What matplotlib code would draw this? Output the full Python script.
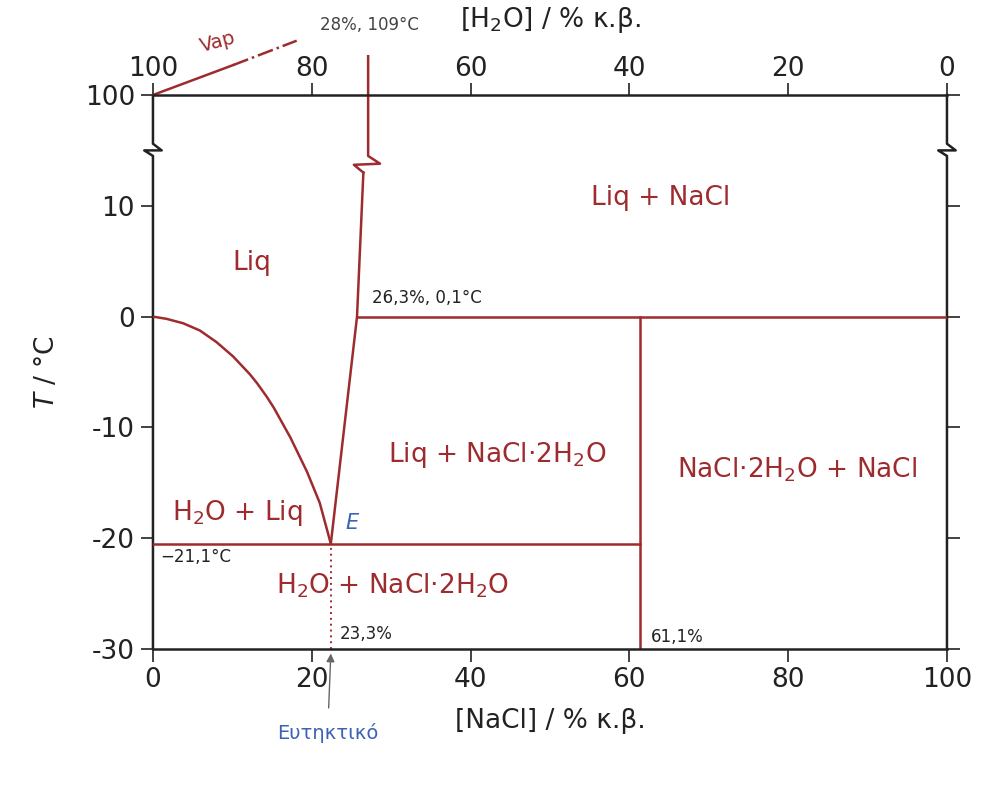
import numpy as np
import matplotlib
matplotlib.use('Agg')
import matplotlib.pyplot as plt

# freezing curve (ice + liquid boundary)
ice_x = [0, 1.7, 3.8, 5.9, 8.0, 10.1, 12.2, 13.1, 14.3, 15.2, 17.3, 19.4, 21.0, 22.4]
ice_t = [0, -0.2, -0.6, -1.25, -2.3, -3.6, -5.2, -6.0, -7.2, -8.2, -10.9, -14.0, -16.8, -20.5]

# salt liquidus (eutectic -> peritectic -> break)
liq_x = [22.4, 25.7, 26.5]
liq_t = [-20.5, 0.0, 13.0]

eut_t = -20.5
eut_x = 22.4
peri_x = 25.7
dihyd_x = 61.3

# y ticks: top one is really 100 (axis is broken)
yticks = [-30, -20, -10, 0, 10, 20]
yticklabels = ['-30', '-20', '-10', '0', '10', '100']
xticks = [0, 20, 40, 60, 80, 100]

red = '#9e2b2e'
blue = '#3c62b4'
dark = '#222222'

fig = plt.figure(figsize=(9.92, 7.87), dpi=100)
ax = fig.add_axes([0.1542, 0.1753, 0.8004, 0.704])
ax.set_xlim(0, 100)
ax.set_ylim(-30, 20)

for s in ['left', 'right']:
  ax.spines[s].set_visible(False)
for s in ['top', 'bottom']:
  ax.spines[s].set_linewidth(1.8)
  ax.spines[s].set_color(dark)

ax.set_xticks(xticks)
ax.set_yticks(yticks)
ax.set_yticklabels(yticklabels)
ax.tick_params(direction='out', length=9, width=1.2, labelsize=19, colors=dark,
               right=True, pad=4)

top = ax.secondary_xaxis('top', functions=(lambda x: 100 - x, lambda x: 100 - x))
top.set_xticks(xticks)
top.tick_params(direction='out', length=9, width=1.2, labelsize=19, colors=dark, pad=0)
top.spines['top'].set_visible(False)

# side axes with break marks
zx = [0, 0, -1.1, 1.1, 0, 0]
zy = [-30, 14.5, 15.0, 15.0, 15.6, 20]
ax.plot(zx, zy, color=dark, lw=1.8, clip_on=False)
ax.plot([100 + v for v in zx], zy, color=dark, lw=1.8, clip_on=False)

# phase boundaries
kw = dict(color=red, lw=1.8, solid_joinstyle='round')
ax.plot(ice_x, ice_t, **kw)
ax.plot(liq_x, liq_t, **kw)
ax.plot([26.5, 25.3, 28.6, 27.1, 27.1], [13.0, 13.7, 13.8, 14.5, 23.5],
        clip_on=False, **kw)
ax.plot([0, dihyd_x], [eut_t, eut_t], **kw)
ax.plot([peri_x, 100], [0, 0], **kw)
ax.plot([dihyd_x, dihyd_x], [-30, 0], **kw)
ax.plot([eut_x, eut_x], [-30, eut_t], color=red, lw=1.4, ls=(0, (1, 2)))

# vapour line
ax.plot([0, 10.1], [20, 22.7], color=red, lw=1.8, clip_on=False)
ax.plot([10.1, 18.1], [22.7, 24.9], color=red, lw=1.8, ls='-.', clip_on=False)
ax.text(8.2, 24.8, 'Vap', color=red, fontsize=14, rotation=15,
        ha='center', va='center')
ax.text(27.3, 26.3, '28%, 109°C', color='#444444', fontsize=12,
        ha='center', va='center')

# region labels
fs = 19
ax.text(12.5, 4.8, 'Liq', color=red, fontsize=fs, ha='center', va='center')
ax.text(63.9, 10.7, 'Liq + NaCl', color=red, fontsize=fs, ha='center', va='center')
ax.text(43.3, -12.5, 'Liq + NaCl·2H$_2$O', color=red, fontsize=fs,
        ha='center', va='center')
ax.text(81.1, -13.8, 'NaCl·2H$_2$O + NaCl', color=red, fontsize=fs,
        ha='center', va='center')
ax.text(10.6, -17.7, 'H$_2$O + Liq', color=red, fontsize=fs, ha='center', va='center')
ax.text(30.1, -24.3, 'H$_2$O + NaCl·2H$_2$O', color=red, fontsize=fs,
        ha='center', va='center')

# point labels
ax.text(27.6, 1.7, '26,3%, 0,1°C', color=dark, fontsize=12, ha='left', va='center')
ax.text(0.9, -21.7, '−21,1°C', color=dark, fontsize=12, ha='left', va='center')
ax.text(23.5, -28.6, '23,3%', color=dark, fontsize=12, ha='left', va='center')
ax.text(62.7, -28.9, '61,1%', color=dark, fontsize=12, ha='left', va='center')
ax.text(25.1, -18.6, 'E', color=blue, fontsize=15, style='italic',
        ha='center', va='center')

ax.annotate('Ευτηκτικό', xy=(eut_x, -30.4), xytext=(22.0, -37.6),
            color=blue, fontsize=14, ha='center', va='center',
            annotation_clip=False,
            arrowprops=dict(arrowstyle='-|>', color='#666666', lw=1,
                            shrinkA=9, shrinkB=0, mutation_scale=12))

ax.set_xlabel('[NaCl] / % κ.β.', fontsize=19, color=dark, labelpad=11)
top.set_xlabel('[H$_2$O] / % κ.β.', fontsize=19, color=dark, labelpad=21)
ax.set_ylabel('$T$ / °C', fontsize=19, color=dark, labelpad=18)

fig.savefig('out.png', dpi=100)
